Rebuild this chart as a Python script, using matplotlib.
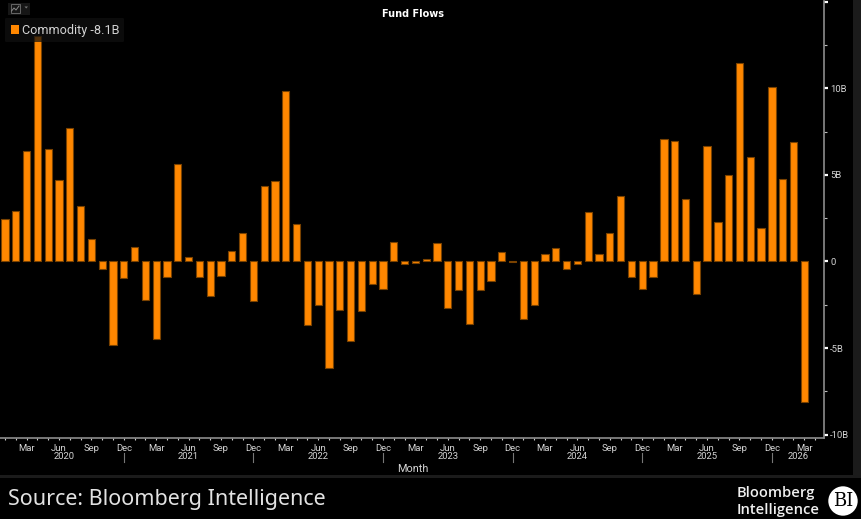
import matplotlib
matplotlib.use("Agg")
import matplotlib.pyplot as plt
from matplotlib.lines import Line2D
from matplotlib.patches import Circle, FancyBboxPatch, Polygon, Rectangle
from matplotlib.ticker import FixedLocator, FuncFormatter, MultipleLocator

# Monthly commodity fund flows in $B, Jan 2020 to Mar 2026
flows = [
    2.44, 2.90, 6.38, 13.0, 6.50, 4.73, 7.73, 3.19, 1.29, -0.44, -4.85, -0.94,
    0.81, -2.25, -4.46, -0.87, 5.63, 0.27, -0.87, -2.02, -0.83, 0.62, 1.67, -2.29,
    4.37, 4.67, 9.85, 2.15, -3.67, -2.50, -6.15, -2.81, -4.58, -2.85, -1.31, -1.58,
    1.10, -0.15, -0.06, 0.12, 1.04, -2.69, -1.62, -3.63, -1.65, -1.15, 0.52, -0.05,
    -3.35, -2.52, 0.46, 0.77, -0.42, -0.17, 2.87, 0.42, 1.62, 3.77, -0.90, -1.58,
    -0.87, 7.06, 6.94, 3.62, -1.90, 6.65, 2.27, 5.00, 11.46, 6.02, 1.96, 10.08,
    4.79, 6.88, -8.10,
]
quarter_names = ["Mar", "Jun", "Sep", "Dec"]
years = ["2020", "2021", "2022", "2023", "2024", "2025", "2026"]

W, H = 861, 519
BAR = "#ff8700"
EDGE = "#7a4200"
TEXT = "#d4d4d4"
AXIS = "#8c8c8c"
STRIP = "#1b1b1b"
plt.rcParams["font.family"] = ["Roboto", "DejaVu Sans"]


def fx(px):
    return px / W


def fy(py):
    return 1 - py / H


def value_label(v, _):
    if abs(v) < 1e-9:
        return "0"
    return f"{v:.0f}B" if v <= 10 else ""


fig = plt.figure(figsize=(W / 100, H / 100), dpi=100, facecolor="black")
ax = fig.add_axes([fx(0), fy(438), fx(824), (438 - 1) / H], facecolor="black")

months = list(range(len(flows)))
ax.bar(months, flows, width=0.68, color=BAR, edgecolor=EDGE, linewidth=0.8, zorder=2)
x_left, x_right = -0.463, 75.83
ax.set_xlim(x_left, x_right)
ax.set_ylim(-10.2, 15.05)

for side in ("top", "left"):
    ax.spines[side].set_visible(False)
for side in ("bottom", "right"):
    ax.spines[side].set_color(AXIS)
    ax.spines[side].set_linewidth(1.2)

# Right-hand value axis
ax.yaxis.tick_right()
ax.yaxis.set_major_locator(MultipleLocator(5))
ax.yaxis.set_minor_locator(MultipleLocator(2.5))
ax.yaxis.set_major_formatter(FuncFormatter(value_label))
ax.tick_params(axis="y", which="major", length=3, width=1.6, color="white",
               labelcolor=TEXT, labelsize=6.8, pad=1.5)
ax.tick_params(axis="y", which="minor", length=1.8, width=0.8, color="#bbbbbb")

# Month axis: a tick every month, a label every quarter
quarter_pos = [m for m in months if m % 3 == 2]
ax.xaxis.set_major_locator(FixedLocator(quarter_pos))
ax.xaxis.set_minor_locator(FixedLocator(months + [75]))
ax.set_xticklabels([quarter_names[(m // 3) % 4] for m in quarter_pos])
ax.tick_params(axis="x", which="both", length=1.6, width=0.8, color="#cccccc",
               labelcolor=TEXT, labelsize=6.8, pad=2.8)

# Year separators at each December, with the year centred between them
separators = [m for m in months if m % 12 == 11]
edges = [months[0]] + separators + [x_right]
xt = ax.get_xaxis_transform()
for sep in separators:
    fig.add_artist(Line2D([fx((sep - x_left) * 824 / (x_right - x_left))] * 2,
                          [fy(453), fy(462)], color="#777777", lw=0.8))
for year, a, b in zip(years, edges[:-1], edges[1:]):
    ax.annotate(year, xy=((a + b) / 2, 0), xycoords=xt, xytext=(0, -18.5),
                textcoords="offset pixels", ha="center", va="center",
                color=TEXT, fontsize=6.8, annotation_clip=False)

fig.text(fx(413), fy(469), "Month", color=TEXT, fontsize=7.8, ha="center", va="center")
fig.text(fx(413), fy(14), "Fund Flows", color="white", fontsize=7, fontweight="bold",
         ha="center", va="center", fontfamily=["DejaVu Sans"])

# Panel edges
fig.add_artist(Rectangle((fx(853), fy(476)), fx(8), 476 / H, color=STRIP, lw=0,
                         transform=fig.transFigure))
fig.add_artist(Rectangle((0, fy(478)), 1, 3 / H, color=STRIP, lw=0,
                         transform=fig.transFigure))

# Legend chip over the plot
fig.add_artist(FancyBboxPatch((fx(5), fy(42)), fx(119), 24 / H,
                              boxstyle="round,pad=0,rounding_size=0.002",
                              fc="#101010", ec="none", alpha=0.72,
                              transform=fig.transFigure))
fig.add_artist(Rectangle((fx(11), fy(33.5)), fx(8), 8 / H, color=BAR, lw=0,
                         transform=fig.transFigure))
fig.text(fx(22), fy(30.5), "Commodity -8.1B", color=TEXT, fontsize=9.1, ha="left", va="center")

# Chart-type button
fig.add_artist(Rectangle((fx(8), fy(15)), fx(22), 12 / H, color="#161616", lw=0,
                         transform=fig.transFigure))
fig.add_artist(Rectangle((fx(10.5), fy(13)), fx(9.5), 9 / H, fc="none", ec="#666666", lw=0.7,
                         transform=fig.transFigure))
fig.add_artist(Line2D([fx(11.5), fx(14), fx(16), fx(19)],
                      [fy(11), fy(8), fy(10), fy(6)], color="#888888", lw=0.7))
fig.add_artist(Polygon([(fx(24.5), fy(6.5)), (fx(28), fy(6.5)), (fx(26.2), fy(8.5))],
                       closed=True, color="#777777", lw=0, transform=fig.transFigure))

# Footer
fig.text(fx(8), fy(500), "Source: Bloomberg Intelligence", color="#e2e2e2",
         fontsize=15.5, ha="left", va="center", fontfamily=["Noto Sans", "DejaVu Sans"])
fig.text(fx(737), fy(493), "Bloomberg", color="#f0f0f0", fontsize=10.6, fontweight="semibold",
         ha="left", va="center", fontfamily=["Open Sans", "DejaVu Sans"])
fig.text(fx(737), fy(510), "Intelligence", color="#f0f0f0", fontsize=10.6, fontweight="semibold",
         ha="left", va="center", fontfamily=["Open Sans", "DejaVu Sans"])
circle_ax = fig.add_axes([fx(828), fy(516), fx(30), 30 / H], facecolor="none")
circle_ax.set_xlim(-1, 1)
circle_ax.set_ylim(-1, 1)
circle_ax.axis("off")
circle_ax.add_patch(Circle((0, 0), 0.98, color="white", lw=0))
circle_ax.text(0, -0.03, "BI", color="black", fontsize=13, ha="center", va="center",
               fontfamily=["DejaVu Serif"])

fig.savefig("out.png", dpi=100, facecolor="black")
